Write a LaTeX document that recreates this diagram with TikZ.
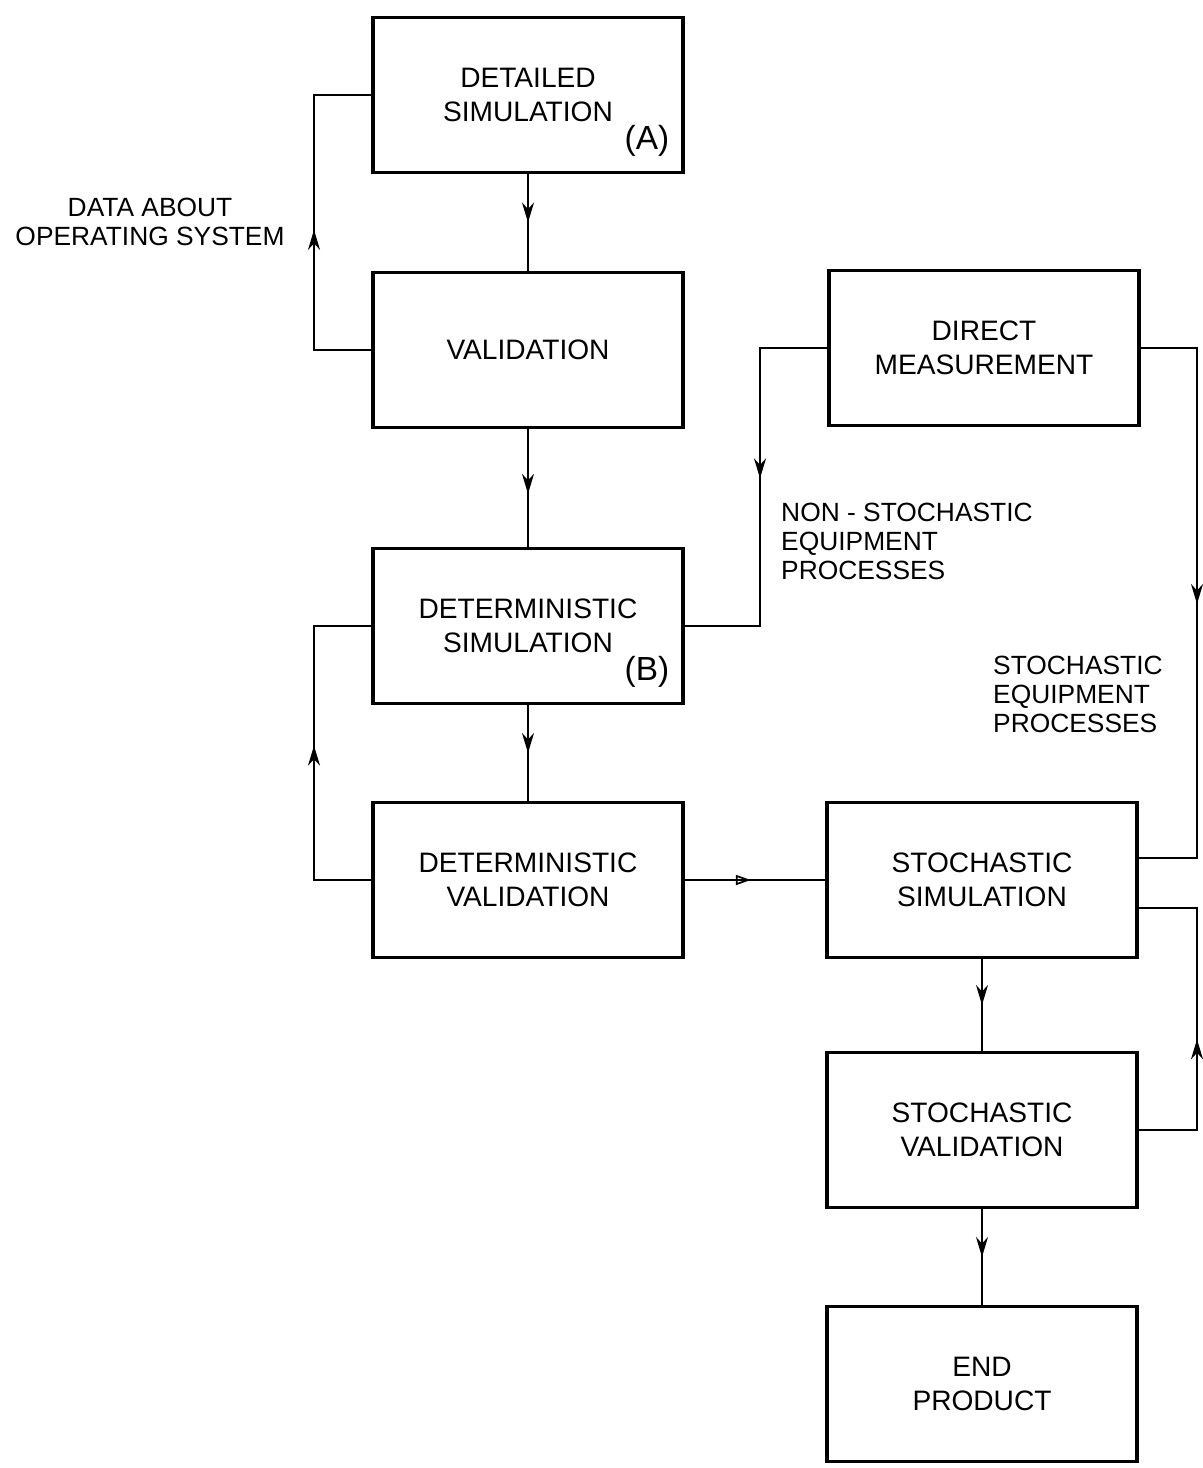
\documentclass[tikz,border=0pt]{standalone}
\usepackage{fontspec}
\setmainfont{Liberation Sans}
\usetikzlibrary{arrows.meta, decorations.markings}

\begin{document}
\begin{tikzpicture}[
    block/.style   = {rectangle, draw, line width=2.2pt,
                      minimum width=6.2cm, minimum height=3.1cm,
                      align=center, font=\fontsize{16}{19}\selectfont},
    link/.style    = {line width=1pt},
    midarrow/.style = {postaction={decorate}, decoration={markings,
                      mark=at position #1 with {\arrow{Stealth[length=4mm, width=2.4mm]}}}},
    midarrow/.default = 0.5,
    openarrow/.style = {postaction={decorate}, decoration={markings,
                      mark=at position #1 with {\arrow{Triangle[open, length=3mm, width=2mm, line width=1pt]}}}},
    openarrow/.default = 0.5,
    note/.style    = {align=left, font=\fontsize{15}{16.5}\selectfont},
    tag/.style     = {font=\fontsize{19}{22}\selectfont}
]
\useasboundingbox (0,0) rectangle (24.04,-29.36);
% left column
\node[block] (detsim)  at (10.56, -1.90)  {DETAILED\\SIMULATION};
\node[block] (valid)   at (10.56, -7.00)  {VALIDATION};
\node[block] (dsim)    at (10.56, -12.52) {DETERMINISTIC\\SIMULATION};
\node[block] (dval)    at (10.56, -17.60) {DETERMINISTIC\\VALIDATION};
% right column
\node[block] (direct)  at (19.68, -6.96)  {DIRECT\\MEASUREMENT};
\node[block] (ssim)    at (19.64, -17.60) {STOCHASTIC\\SIMULATION};
\node[block] (sval)    at (19.64, -22.60) {STOCHASTIC\\VALIDATION};
\node[block] (endp)    at (19.64, -27.68) {END\\PRODUCT};
% tags
\node[tag] (tagA) at ([shift={(-0.76,0.68)}]detsim.south east) {(A)};
\node[tag] (tagB) at ([shift={(-0.76,0.68)}]dsim.south east)   {(B)};
% labels
\node[align=center, font=\fontsize{15}{16.5}\selectfont] (opdata) at (3.0, -4.44) {DATA ABOUT\\OPERATING SYSTEM};
\node[note, anchor=west] (nonstoch) at (15.5, -10.82) {NON - STOCHASTIC\\EQUIPMENT\\PROCESSES};
\node[note, anchor=west] (stoch)    at (19.74, -13.88) {STOCHASTIC\\EQUIPMENT\\PROCESSES};
% helper points
\coordinate (ssimin)  at ([yshift=0.44cm]ssim.east);
\coordinate (ssimout) at ([yshift=-0.56cm]ssim.east);
% straight links
\draw[link, midarrow] (detsim) -- (valid);
\draw[link, midarrow=0.55] (valid) -- (dsim);
\draw[link, midarrow] (dsim) -- (dval);
\draw[link, openarrow=0.47] (dval) -- (ssim);
\draw[link, midarrow] (ssim) -- (sval);
\draw[link, midarrow] (sval) -- (endp);
% feedback loops
\draw[link, midarrow=0.48] (valid.west) -- (6.28, -7.00) |- (detsim.west);
\draw[link, midarrow=0.52] (dval.west) -- (6.28, -17.60) |- (dsim.west);
\draw[link, midarrow=0.47] (direct.west) -- (15.2, -6.96) |- (dsim.east);
\draw[link, midarrow] (direct.east) -- (23.94, -6.96) |- (ssimin);
\draw[link, midarrow=0.44] (sval.east) -- (23.94, -22.60) |- (ssimout);
\end{tikzpicture}
\end{document}
